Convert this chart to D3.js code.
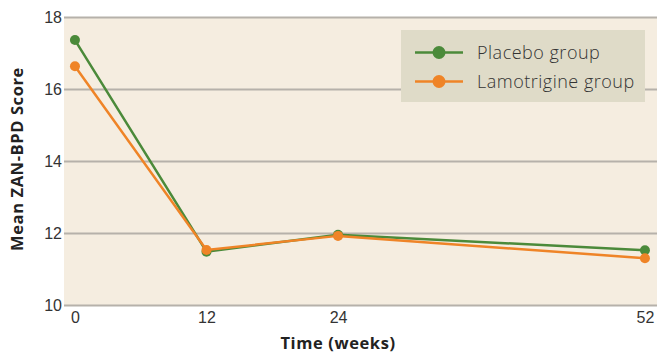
<!DOCTYPE html>
<html><head><meta charset="utf-8">
<script src="https://cdn.jsdelivr.net/npm/d3@7"></script>
<style>body{margin:0;background:#fff}svg{display:block;font-family:"Open Sans",sans-serif}</style>
</head><body><svg id="c" width="657" height="354"></svg>
<script>
const weeks = [0, 12, 24, 52];
const placebo = [17.36, 11.48, 11.95, 11.52];
const lamotrigine = [16.63, 11.53, 11.92, 11.30];
const yTicks = [10, 12, 14, 16, 18];
const seriesNames = ["Placebo group", "Lamotrigine group"];
const colors = ["#4b8a3a", "#ef8427"];

const svg = d3.select("#c");
const L = 64, R = 657, T = 17, B = 305;
const x = d3.scaleLinear().domain([-1, 53.1]).range([L, R]);
const y = d3.scaleLinear().domain([10, 18]).range([B, T]);

svg.append("rect").attr("x", L).attr("y", T).attr("width", R - L).attr("height", B - T).attr("fill", "#f5ede0");

const yAxis = svg.append("g").attr("transform", `translate(${L},0)`)
  .call(d3.axisLeft(y).tickValues(yTicks).tickSize(-(R - L)).tickPadding(2));
yAxis.select(".domain").remove();
yAxis.selectAll("line").attr("stroke", "#b6b1aa").attr("stroke-width", 2);
yAxis.selectAll("text").attr("fill", "#333").style("font-size", "16px").style("font-weight", "300");

const xAxis = svg.append("g").attr("transform", `translate(0,${B})`)
  .call(d3.axisBottom(x).tickValues(weeks).tickSize(0).tickPadding(7));
xAxis.select(".domain").remove();
xAxis.selectAll("text").attr("fill", "#333").style("font-size", "16px").style("font-weight", "300");

const line = d3.line().x((d, i) => x(weeks[i])).y(d => y(d));
[placebo, lamotrigine].forEach((s, k) => {
  svg.append("path").datum(s).attr("d", line).attr("fill", "none").attr("stroke", colors[k]).attr("stroke-width", 2.5);
  svg.selectAll(null).data(s).enter().append("circle")
    .attr("cx", (d, i) => x(weeks[i])).attr("cy", d => y(d)).attr("r", 5).attr("fill", colors[k]);
});

// legend
const lg = svg.append("g");
lg.append("rect").attr("x", 401).attr("y", 30).attr("width", 244).attr("height", 72).attr("fill", "#dfdbc8");
seriesNames.forEach((n, k) => {
  const yy = 52.5 + k * 29;
  lg.append("line").attr("x1", 415).attr("x2", 463).attr("y1", yy).attr("y2", yy).attr("stroke", colors[k]).attr("stroke-width", 2.5);
  lg.append("circle").attr("cx", 439).attr("cy", yy).attr("r", 6.5).attr("fill", colors[k]);
  lg.append("text").attr("x", 477).attr("y", yy).attr("dy", "0.35em").attr("fill", "#333")
    .style("font-size", "18px").style("font-weight", "300").style("letter-spacing", "0.5px").text(n);
});

svg.append("text").attr("x", x(24)).attr("y", 349).attr("text-anchor", "middle").attr("fill", "#222")
  .style("font-size", "16.5px").style("font-weight", "bold").style("letter-spacing", "0.6px").text("Time (weeks)");
svg.append("text").attr("transform", `translate(23,159) rotate(-90)`).attr("text-anchor", "middle").attr("fill", "#222")
  .style("font-size", "16.5px").style("font-weight", "bold").style("letter-spacing", "0.6px").text("Mean ZAN-BPD Score");
</script></body></html>
